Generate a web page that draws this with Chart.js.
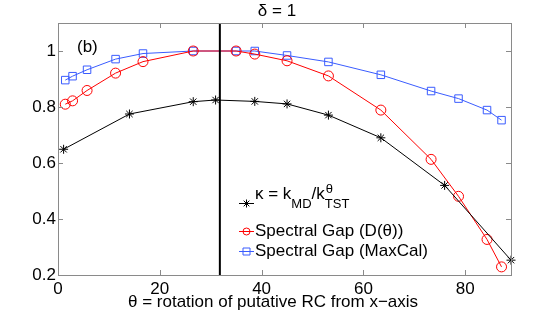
<!DOCTYPE html>
<html>
<head>
<meta charset="utf-8">
<script src="https://cdn.jsdelivr.net/npm/chart.js@4/dist/chart.umd.min.js"></script>
<style>
  html, body { margin: 0; padding: 0; background: #fff; }
  #wrap { width: 543px; height: 319px; position: relative; }
</style>
</head>
<body>
<div id="wrap"><canvas id="c" width="543" height="319"></canvas></div>
<script>
// ---- data ----
const thetaSpectral = [1.43, 2.86, 5.71, 11.31, 16.70, 26.57, 34.99, 38.66, 45.00, 53.13, 63.43, 73.30, 78.69, 84.29, 87.14];
const gapD          = [0.810, 0.822, 0.859, 0.921, 0.962, 1.000, 1.000, 0.989, 0.965, 0.911, 0.789, 0.613, 0.481, 0.327, 0.229];
const gapMaxCal     = [0.896, 0.910, 0.933, 0.971, 0.991, 1.000, 1.000, 1.000, 0.984, 0.961, 0.915, 0.857, 0.830, 0.789, 0.753];
const thetaKappa    = [1.1, 14.04, 26.57, 30.96, 38.66, 45.00, 53.13, 63.43, 75.96, 89.0];
const kappa         = [0.649, 0.775, 0.819, 0.825, 0.820, 0.811, 0.771, 0.690, 0.520, 0.253];
const xTicks = [0, 20, 40, 60, 80];
const yTicks = [0.2, 0.4, 0.6, 0.8, 1];
const xRange = [0, 89];
const yRange = [0.2, 1.1];
const dividerTheta = 31.8;
const seriesNames = ['κ = k_MD/k^θ_TST', 'Spectral Gap (D(θ))', 'Spectral Gap (MaxCal)'];
const titleText = 'δ = 1';
const panelText = '(b)';
const xLabelText = 'θ = rotation of putative RC from x\u2212axis';

const FONT = '"Liberation Sans", Arial, sans-serif';
const RED = '#ff0000', BLUE = '#3a5cff', BLACK = '#000000', BOX = '#8a8a8a';

function pts(xs, ys) { return xs.map((x, i) => ({ x: x, y: ys[i] })); }

const overlay = {
  id: 'overlay',
  afterDatasetsDraw(chart) {
    const ctx = chart.ctx, a = chart.chartArea;
    const xs = chart.scales.x;
    ctx.save();
    const dx = xs.getPixelForValue(dividerTheta);
    ctx.strokeStyle = BLACK; ctx.lineWidth = 2;
    ctx.beginPath(); ctx.moveTo(dx, a.top); ctx.lineTo(dx, a.bottom); ctx.stroke();
    ctx.restore();
  },
  afterDraw(chart) {
    const ctx = chart.ctx, a = chart.chartArea;
    const xs = chart.scales.x, ys = chart.scales.y;
    ctx.save();
    ctx.strokeStyle = BOX; ctx.lineWidth = 1;
    ctx.strokeRect(Math.round(a.left) + 0.5, Math.round(a.top) + 0.5,
                   Math.round(a.right - a.left), Math.round(a.bottom - a.top));
    const tl = 5;
    ctx.beginPath();
    xTicks.forEach(v => {
      const px = Math.round(xs.getPixelForValue(v)) + 0.5;
      ctx.moveTo(px, a.bottom); ctx.lineTo(px, a.bottom - tl);
      ctx.moveTo(px, a.top); ctx.lineTo(px, a.top + tl);
    });
    yTicks.forEach(v => {
      const py = Math.round(ys.getPixelForValue(v)) + 0.5;
      ctx.moveTo(a.left, py); ctx.lineTo(a.left + tl, py);
      ctx.moveTo(a.right, py); ctx.lineTo(a.right - tl, py);
    });
    ctx.stroke();

    ctx.fillStyle = BLACK;
    ctx.textAlign = 'center'; ctx.textBaseline = 'alphabetic';
    ctx.font = '17px ' + FONT;
    ctx.fillText(titleText, 277, 16);
    ctx.fillText(xLabelText, 273, 307);
    ctx.textAlign = 'left';
    ctx.fillText(panelText, 77, 52);

    const lx0 = 239, lx1 = 254, tx = 255;
    function marker(kind, x, y, color, r) {
      ctx.strokeStyle = color; ctx.lineWidth = 1;
      ctx.beginPath();
      if (kind === 'circle') { ctx.arc(x, y, r, 0, Math.PI * 2); }
      else if (kind === 'rect') { ctx.rect(x - r, y - r, 2 * r, 2 * r); }
      else {
        for (let k = 0; k < 4; k++) {
          const ang = k * Math.PI / 4;
          ctx.moveTo(x - Math.cos(ang) * r, y - Math.sin(ang) * r);
          ctx.lineTo(x + Math.cos(ang) * r, y + Math.sin(ang) * r);
        }
      }
      ctx.stroke();
    }
    function entry(y, color, kind) {
      ctx.strokeStyle = color; ctx.lineWidth = 1;
      ctx.beginPath(); ctx.moveTo(lx0, y + 0.5); ctx.lineTo(lx1, y + 0.5); ctx.stroke();
      marker(kind, (lx0 + lx1) / 2, y + 0.5, color, kind === 'star' ? 4 : 3.5);
    }
    entry(203, BLACK, 'star');
    entry(231, RED, 'circle');
    entry(251, BLUE, 'rect');

    ctx.fillStyle = BLACK; ctx.textAlign = 'left'; ctx.textBaseline = 'alphabetic';
    ctx.font = '17px ' + FONT;
    let x = tx;
    const base = 199;
    const s1 = 'κ = k';
    ctx.fillText(s1, x, base); x += ctx.measureText(s1).width;
    ctx.font = '13px ' + FONT;
    ctx.fillText('MD', x, base + 9); x += ctx.measureText('MD').width;
    ctx.font = '17px ' + FONT;
    ctx.fillText('/k', x, base); x += ctx.measureText('/k').width;
    ctx.font = '13px ' + FONT;
    ctx.fillText('θ', x + 1, base - 6);
    ctx.fillText('TST', x, base + 9);

    ctx.font = '17px ' + FONT;
    ctx.textBaseline = 'middle';
    ctx.fillText(seriesNames[1], tx, 231);
    ctx.fillText(seriesNames[2], tx, 251);
    ctx.restore();
  }
};

new Chart(document.getElementById('c'), {
  type: 'scatter',
  data: {
    datasets: [
      { label: seriesNames[0], data: pts(thetaKappa, kappa), showLine: true,
        borderColor: BLACK, borderWidth: 1, pointStyle: 'star', pointRadius: 4.5,
        pointBorderColor: BLACK, pointBorderWidth: 1, pointBackgroundColor: 'transparent', clip: false },
      { label: seriesNames[1], data: pts(thetaSpectral, gapD), showLine: true,
        borderColor: RED, borderWidth: 1, pointStyle: 'circle', pointRadius: 5,
        pointBorderColor: RED, pointBorderWidth: 1, pointBackgroundColor: 'transparent', clip: false },
      { label: seriesNames[2], data: pts(thetaSpectral, gapMaxCal), showLine: true,
        borderColor: BLUE, borderWidth: 1, pointStyle: 'rect', pointRadius: 5.3,
        pointBorderColor: BLUE, pointBorderWidth: 1, pointBackgroundColor: 'transparent', clip: false }
    ]
  },
  options: {
    responsive: false, animation: false, devicePixelRatio: 1,
    layout: { padding: { left: 0, right: 32, top: 23, bottom: 0 } },
    plugins: { legend: { display: false }, tooltip: { enabled: false }, title: { display: false } },
    scales: {
      x: {
        type: 'linear', min: xRange[0], max: xRange[1],
        grid: { display: false, drawTicks: false }, border: { display: false },
        afterBuildTicks(s) { s.ticks = xTicks.map(v => ({ value: v })); },
        afterFit(s) { s.height = 44; },
        ticks: { color: BLACK, font: { family: FONT, size: 17 }, padding: 4, maxRotation: 0,
                 callback: v => String(v) }
      },
      y: {
        type: 'linear', min: yRange[0], max: yRange[1],
        grid: { display: false, drawTicks: false }, border: { display: false },
        afterBuildTicks(s) { s.ticks = yTicks.map(v => ({ value: v })); },
        afterFit(s) { s.width = 58; },
        ticks: { color: BLACK, font: { family: FONT, size: 17 }, padding: 2,
                 callback: v => String(v) }
      }
    }
  },
  plugins: [overlay]
});
</script>
</body>
</html>
